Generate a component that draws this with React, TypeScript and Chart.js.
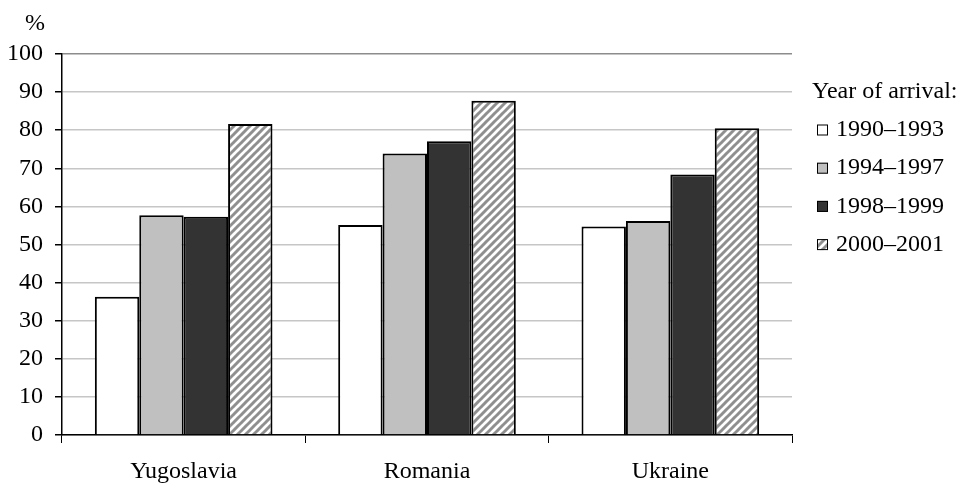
import React, { useEffect, useRef } from "react";
import { Chart, registerables } from "chart.js";

Chart.register(...registerables);

const categories = ["Yugoslavia", "Romania", "Ukraine"];
const seriesLabels = ["1990–1993", "1994–1997", "1998–1999", "2000–2001"];
const v1990 = [36.3, 55.1, 54.7];
const v1994 = [57.7, 73.9, 56.2];
const v1998 = [57.3, 77.1, 68.4];
const v2000 = [81.6, 87.7, 80.5];
const yTicks = [0, 10, 20, 30, 40, 50, 60, 70, 80, 90, 100];
const legendTitle = "Year of arrival:";
const unitLabel = "%";

const FONT = "'Liberation Serif', 'Times New Roman', serif";

function makeHatch(): CanvasPattern | string {
  const c = document.createElement("canvas");
  const s = 8;
  c.width = s;
  c.height = s;
  const g = c.getContext("2d");
  if (!g) return "#999";
  g.fillStyle = "#ffffff";
  g.fillRect(0, 0, s, s);
  g.strokeStyle = "#8f8f8f";
  g.lineWidth = 3;
  for (let k = -1; k <= 1; k++) {
    g.beginPath();
    g.moveTo(k * s - 1, s + 1);
    g.lineTo(k * s + s + 1, -1);
    g.stroke();
  }
  const p = g.createPattern(c, "repeat");
  return p || "#999";
}

export default function App() {
  const ref = useRef<HTMLCanvasElement | null>(null);

  useEffect(() => {
    if (!ref.current) return;
    const hatch = makeHatch();
    const fills: any[] = ["#ffffff", "#c0c0c0", "#333333", hatch];
    const values = [v1990, v1994, v1998, v2000];

    const extras = {
      id: "extras",
      afterDraw(chart: any) {
        const ctx = chart.ctx;
        const area = chart.chartArea;
        ctx.save();
        ctx.fillStyle = "#000";
        ctx.font = `24px ${FONT}`;
        ctx.textBaseline = "middle";
        ctx.textAlign = "center";
        ctx.fillText(unitLabel, 35, area.top - 30);
        ctx.textAlign = "left";
        const lx = area.right + 20;
        ctx.fillText(legendTitle, lx, area.top + 38);
        chart.data.datasets.forEach((ds: any, i: number) => {
          const y = area.top + 76 + i * 38.2;
          ctx.fillStyle = ds.backgroundColor;
          ctx.fillRect(lx + 5, y - 5.5, 11, 11);
          ctx.strokeStyle = "#000";
          ctx.lineWidth = 1;
          ctx.strokeRect(lx + 5.5, y - 5, 10, 10);
          ctx.fillStyle = "#000";
          ctx.fillText(ds.label, lx + 24, y);
        });
        ctx.restore();
      },
    };

    const chart = new Chart(ref.current, {
      type: "bar",
      data: {
        labels: categories,
        datasets: seriesLabels.map((lab, i) => ({
          label: lab,
          data: values[i],
          backgroundColor: fills[i],
          borderColor: "#000000",
          borderWidth: 2,
          categoryPercentage: 0.73,
          barPercentage: 1.0,
        })),
      },
      options: {
        animation: false,
        responsive: false,
        maintainAspectRatio: false,
        layout: { padding: { top: 54, right: 171, left: 0, bottom: 0 } },
        plugins: {
          legend: { display: false },
          tooltip: { enabled: false },
        },
        scales: {
          x: {
            afterFit: (s: any) => {
              s.height = 49;
            },
            grid: {
              offset: true,
              drawOnChartArea: true,
              tickLength: 8,
              tickColor: "#000",
              color: (c: any) => (c.index === 3 ? "#8c8c8c" : "rgba(0,0,0,0)"),
            },
            border: { display: true, color: "#000", width: 1.5 },
            ticks: {
              color: "#000",
              padding: 14,
              font: { family: FONT, size: 24 },
            },
          },
          y: {
            min: 0,
            max: 100,
            afterFit: (s: any) => {
              s.width = 62;
            },
            afterBuildTicks: (s: any) => {
              s.ticks = yTicks.map((v) => ({ value: v }));
            },
            grid: {
              tickLength: 7,
              tickColor: "#000",
              lineWidth: 1.5,
              color: (c: any) => (c.tick && c.tick.value === 100 ? "#8c8c8c" : "#c6c6c6"),
            },
            border: { display: true, color: "#000", width: 1.5 },
            ticks: {
              color: "#000",
              padding: 12,
              font: { family: FONT, size: 24 },
            },
          },
        },
      },
      plugins: [extras],
    });
    return () => chart.destroy();
  }, []);

  return (
    <div style={{ position: "absolute", left: 0, top: 0, width: 963, height: 484, background: "#fff" }}>
      <canvas ref={ref} width={963} height={484} style={{ display: "block" }} />
    </div>
  );
}
